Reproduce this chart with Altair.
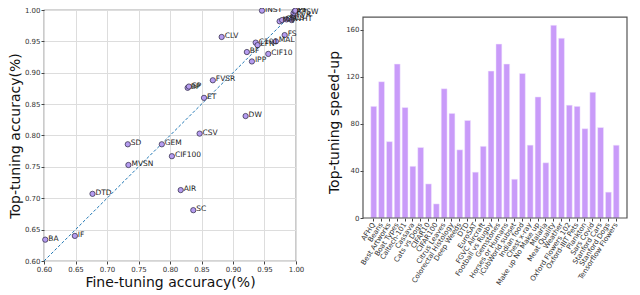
import altair as alt
import pandas as pd

# ---- scatter data (fine-tuning vs top-tuning accuracy) ----
point_labels = ["INST", "CLV", "C101", "LFN", "MAL", "FS", "BF", "CIF10", "IPP",
                "FVSR", "BP", "SP", "ET", "DW", "CSV", "SD", "GEM", "CIF100",
                "MVSN", "DTD", "AIR", "SC", "IF", "BA",
                "MQ", "CD", "SCS", "WHT", "FVR", "RPSW", "PT", "PF"]
fine_acc = [0.946, 0.882, 0.936, 0.939, 0.968, 0.982, 0.922, 0.956, 0.930,
            0.868, 0.828, 0.830, 0.854, 0.920, 0.847, 0.733, 0.787, 0.803,
            0.734, 0.677, 0.817, 0.837, 0.649, 0.602,
            0.974, 0.978, 0.985, 0.993, 0.996, 0.996, 0.998, 0.999]
top_acc = [0.999, 0.957, 0.948, 0.944, 0.950, 0.960, 0.933, 0.930, 0.918,
           0.888, 0.876, 0.878, 0.860, 0.831, 0.803, 0.786, 0.786, 0.767,
           0.753, 0.707, 0.713, 0.681, 0.640, 0.634,
           0.982, 0.984, 0.985, 0.984, 0.990, 0.995, 0.998, 0.999]
diag_x = [0.6, 1.0]
diag_y = [0.6, 1.0]
acc_ticks = [0.60, 0.65, 0.70, 0.75, 0.80, 0.85, 0.90, 0.95, 1.00]

# ---- bar data (speed-up) ----
datasets = ["AFHQ", "Beans", "Best Artworks", "Boat Types", "Caltech-101", "Cassava",
            "Cats vs Dogs", "CIFAR10", "CIFAR100", "Citrus Leaves", "Colorectal Histology",
            "Deep Weeds", "DTD", "EuroSAT", "FGVC Aircraft", "Football vs Rugby",
            "Gemstones", "Horses or Humans", "iCubWorld subset", "Indian food",
            "Chest x-ray", "Make up No Make up", "Malaria", "Meat Quality", "Weather",
            "Oxford Flowers 102", "Oxford-IIIT Pets", "Plankton", "Sars Covid",
            "Stanford Cars", "Stanford Dogs", "Tensorflow Flowers"]
speedup = [95, 116, 65, 131, 94, 44, 60, 29, 12, 110, 89, 58, 83, 39, 61, 125,
           148, 131, 33, 123, 62, 103, 47, 164, 153, 96, 95, 76, 107, 77, 22, 62]
speed_ticks = [0, 20, 40, 60, 80, 100, 120, 140, 160]
speed_frame = [0, 171]      # axis box extent (matplotlib auto limits)
speed_domain = [0, 177]

FONT = "DejaVu Sans"

pts = pd.DataFrame({"label": point_labels, "fine": fine_acc, "top": top_acc})
diag = pd.DataFrame({"fine": diag_x, "top": diag_y})

xs = alt.Scale(domain=[0.6, 1.0], nice=False)
ys = alt.Scale(domain=[0.6, 1.0], nice=False)
common = dict(labelFontSize=7, titleFontSize=14, titleFontWeight="normal",
              labelPadding=1, tickSize=3, labelColor="#333", titleColor="#111",
              labelOverlap=False, labelFlush=False)
xax = alt.Axis(values=acc_ticks, format=".2f", title="Fine-tuning accuracy(%)",
               titlePadding=3, grid=True, gridColor="#dddddd", **common)
yax = alt.Axis(values=acc_ticks, format=".2f", title="Top-tuning accuracy(%)",
               titlePadding=2, grid=True, gridColor="#dddddd", **common)

X = alt.X("fine:Q", scale=xs, axis=xax)
Y = alt.Y("top:Q", scale=ys, axis=yax)

line = alt.Chart(diag).mark_line(strokeDash=[3, 2], color="#1f77b4", strokeWidth=1).encode(
    x=X, y=Y)
dots = alt.Chart(pts).mark_point(filled=True, fill="#b59cf0", stroke="#3b3553",
                                 strokeWidth=0.8, size=28, opacity=1).encode(x=X, y=Y)
texts = alt.Chart(pts).mark_text(align="left", baseline="alphabetic", dx=3, dy=1,
                                 fontSize=7.5, color="#222", font=FONT).encode(
    x=X, y=Y, text="label:N")

left = alt.layer(line, dots, texts).properties(
    width=252, height=251,
    view=alt.ViewBackground(stroke="#555", strokeWidth=1.2))

bars_df = pd.DataFrame({"dataset": datasets, "speedup": speedup})
frame_df = pd.DataFrame({"lo": [speed_frame[0]], "hi": [speed_frame[1]]})

ysp = alt.Scale(domain=speed_domain, nice=False)
bars = alt.Chart(bars_df).mark_bar(color="#c99bf9", stroke="#f3e8ff", strokeWidth=0.5).encode(
    x=alt.X("dataset:N", sort=datasets,
            scale=alt.Scale(paddingInner=0.25, paddingOuter=1.0),
            axis=alt.Axis(title=None, labelAngle=-57, labelAlign="right",
                          labelBaseline="middle", labelFontSize=7, labelPadding=2,
                          tickSize=3, labelColor="#333", labelOverlap=False)),
    y=alt.Y("speedup:Q", scale=ysp,
            axis=alt.Axis(values=speed_ticks, title="Top-tuning speed-up",
                          labelFontSize=7, titleFontSize=14, titleFontWeight="normal",
                          labelPadding=1, titlePadding=4, tickSize=3, grid=False,
                          labelColor="#333", titleColor="#111", labelOverlap=False,
                          titleY=112)),
)
frame = alt.Chart(frame_df).mark_rect(filled=False, stroke="#555", strokeWidth=1.2).encode(
    y=alt.Y("hi:Q", scale=ysp), y2="lo:Q",
    x=alt.value(0), x2=alt.value(264))

right = alt.layer(bars, frame).properties(
    width=264, height=208, view=alt.ViewBackground(strokeWidth=0))

chart = alt.hconcat(left, right, spacing=8).properties(
    padding={"top": -3, "left": -1, "right": 0, "bottom": 0}
).configure(font=FONT).configure_axis(domain=False, tickColor="#444")

chart.save("out.html", embed_options={"renderer": "svg", "actions": False})
